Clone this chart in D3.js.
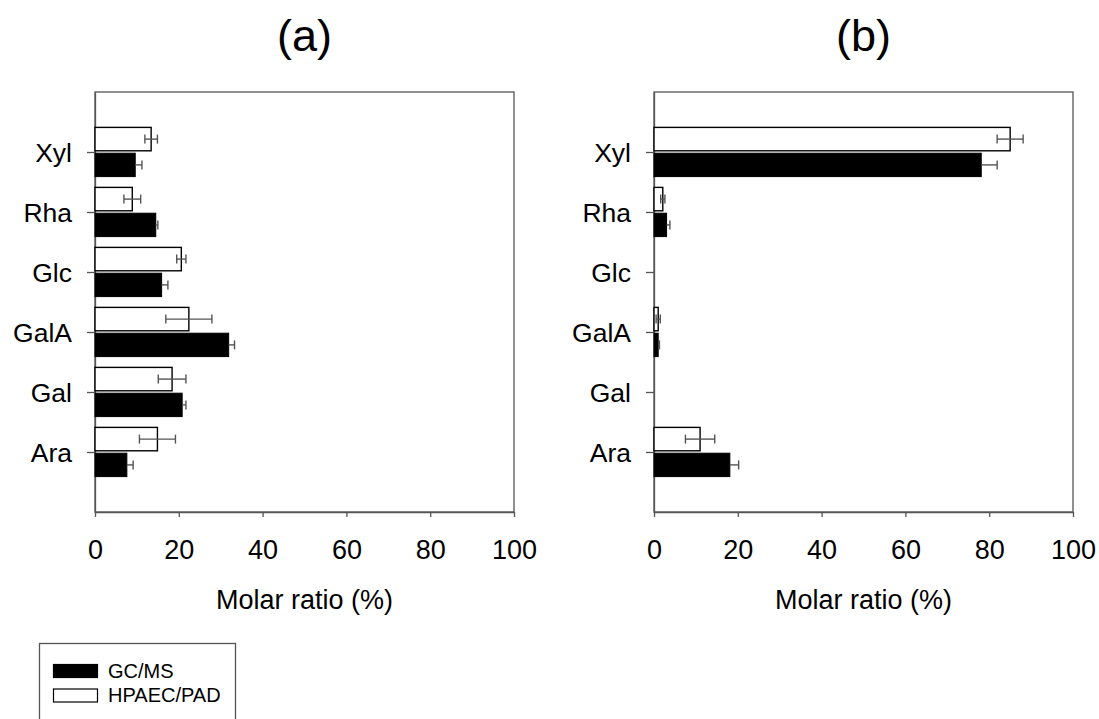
<!DOCTYPE html>
<html><head><meta charset="utf-8">
<script src="https://cdn.jsdelivr.net/npm/d3@7"></script>
<style>body{margin:0;background:#fff}text{font-family:Arial,"Liberation Sans",sans-serif;fill:#000}</style>
</head><body>
<svg id="c" width="1099" height="719"></svg>
<script>
const categories = ["Ara","Gal","GalA","Glc","Rha","Xyl"];
const xTicks = [0,20,40,60,80,100];
const panelTitles = ["(a)","(b)"];
const seriesNames = ["GC/MS","HPAEC/PAD"];
// panel (a)
const aGCMS = [7.6, 20.8, 31.9, 15.9, 14.5, 9.6];
const aGCMSErr = [1.5, 0.9, 1.4, 1.5, 0.5, 1.6];
const aHPAEC = [14.9, 18.4, 22.4, 20.6, 8.9, 13.4];
const aHPAECErr = [4.3, 3.3, 5.5, 1.1, 2.0, 1.5];
// panel (b)
const bGCMS = [18.1, 0, 1.0, 0, 3.0, 78.1];
const bGCMSErr = [2.1, 0, 0.3, 0, 0.8, 3.8];
const bHPAEC = [11.0, 0, 1.0, 0, 2.1, 85.0];
const bHPAECErr = [3.5, 0, 0.5, 0, 0.5, 3.1];

const panels = [
  {title: panelTitles[0], left: 95, gc: aGCMS, gcE: aGCMSErr, hp: aHPAEC, hpE: aHPAECErr},
  {title: panelTitles[1], left: 654, gc: bGCMS, gcE: bGCMSErr, hp: bHPAEC, hpE: bHPAECErr}
];
const svg = d3.select("#c");
const W = 419, plotTop = 92, plotBottom = 512;
const y = d3.scaleLinear().domain([0,7]).range([plotBottom, plotTop]);

panels.forEach(p => {
  const x = d3.scaleLinear().domain([0,100]).range([p.left, p.left+W]);
  const g = svg.append("g");
  // frame
  g.append("rect").attr("x", p.left).attr("y", plotTop).attr("width", W).attr("height", plotBottom-plotTop)
    .attr("fill","none").attr("stroke","#555").attr("stroke-width",1.3);
  // x axis
  const xa = g.append("g").attr("transform",`translate(0,${plotBottom})`)
    .call(d3.axisBottom(x).tickValues(xTicks).tickSizeInner(5).tickSizeOuter(0).tickFormat(d3.format("d")));
  xa.select(".domain").attr("stroke","#555").attr("stroke-width",1.3);
  xa.selectAll(".tick line").attr("stroke","#555").attr("stroke-width",1.3);
  xa.selectAll("text").style("font-size","27px").attr("dy","0.71em").attr("y",28);
  // y axis
  const ya = g.append("g").attr("transform",`translate(${p.left},0)`)
    .call(d3.axisLeft(y).tickValues(categories.map((c,i)=>i+1)).tickSizeInner(8).tickSizeOuter(0).tickPadding(15)
      .tickFormat((d)=>categories[d-1]));
  ya.select(".domain").attr("stroke","#555").attr("stroke-width",1.3);
  ya.selectAll(".tick line").attr("stroke","#555").attr("stroke-width",1.3);
  ya.selectAll("text").style("font-size","26.5px").attr("dy","0.36em");
  g.selectAll(".tick text").style("fill","#000").style("font-family","Arial, 'Liberation Sans', sans-serif");

  const data = categories.map((c,i)=>({pos:i+1, gc:p.gc[i], gcE:p.gcE[i], hp:p.hp[i], hpE:p.hpE[i]}));
  // HPAEC bars (white, above)
  g.selectAll(".hp").data(data.filter(d=>d.hp>0)).join("rect")
    .attr("x", x(0)).attr("y", d=>y(d.pos+0.41)).attr("width", d=>x(d.hp)-x(0))
    .attr("height", d=>y(d.pos+0.02)-y(d.pos+0.41))
    .attr("fill","#fff").attr("stroke","#000").attr("stroke-width",1.4);
  // GC/MS bars (black, below)
  g.selectAll(".gc").data(data.filter(d=>d.gc>0)).join("rect")
    .attr("x", x(0)).attr("y", d=>y(d.pos-0.02)).attr("width", d=>x(d.gc)-x(0))
    .attr("height", d=>y(d.pos-0.41)-y(d.pos-0.02))
    .attr("fill","#000").attr("stroke","#000").attr("stroke-width",1);
  // error bars
  const eb = (cls, arr, val, err, off, both) => {
    const sel = g.selectAll("."+cls).data(arr.filter(d=>d[val]>0)).join("g");
    sel.append("line").attr("x1", d=>x(both? d[val]-d[err] : d[val])).attr("x2", d=>x(d[val]+d[err]))
      .attr("y1", d=>y(d.pos+off)).attr("y2", d=>y(d.pos+off)).attr("stroke","#555").attr("stroke-width",1.4);
    sel.append("line").attr("x1", d=>x(d[val]+d[err])).attr("x2", d=>x(d[val]+d[err]))
      .attr("y1", d=>y(d.pos+off)-4.5).attr("y2", d=>y(d.pos+off)+4.5).attr("stroke","#555").attr("stroke-width",1.4);
    if (both) sel.append("line").attr("x1", d=>x(d[val]-d[err])).attr("x2", d=>x(d[val]-d[err]))
      .attr("y1", d=>y(d.pos+off)-4.5).attr("y2", d=>y(d.pos+off)+4.5).attr("stroke","#555").attr("stroke-width",1.4);
  };
  eb("ehp", data, "hp", "hpE", 0.215, true);
  eb("egc", data, "gc", "gcE", -0.215, false);
  // title
  svg.append("text").attr("x", p.left+W/2).attr("y", 51).attr("text-anchor","middle")
    .style("font-size","45px").text(p.title);
  svg.append("text").attr("x", p.left+W/2).attr("y", 609).attr("text-anchor","middle")
    .style("font-size","27px").text("Molar ratio (%)");
});

// legend
const lg = svg.append("g");
lg.append("rect").attr("x",39.5).attr("y",643.5).attr("width",196).attr("height",100)
  .attr("fill","none").attr("stroke","#555").attr("stroke-width",1.3);
const lf = ["#000","#fff"];
seriesNames.forEach((s,i)=>{
  lg.append("rect").attr("x",53.5).attr("y",664.5+i*24.5).attr("width",44).attr("height",13)
    .attr("fill",lf[i]).attr("stroke","#000").attr("stroke-width",1.2);
  lg.append("text").attr("x",108).attr("y",677.5+i*24.5).style("font-size","20px").text(s);
});
</script>
</body></html>
